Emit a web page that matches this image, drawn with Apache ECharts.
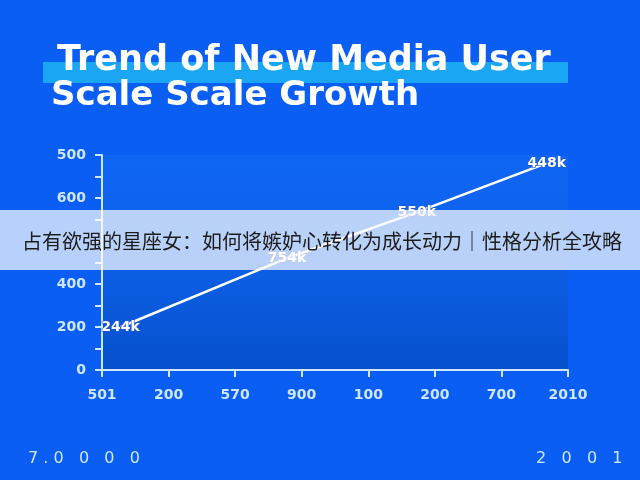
<!DOCTYPE html>
<html>
<head>
<meta charset="utf-8">
<script src="https://cdn.jsdelivr.net/npm/echarts@6/dist/echarts.min.js"></script>
<style>
  html, body { margin: 0; padding: 0; background: #0a5ef4; }
  #main { width: 640px; height: 480px; }
</style>
</head>
<body>
<div id="main"></div>
<script>
// tick labels as printed on the picture
var xLabels = ['501', '200', '570', '900', '100', '200', '700', '2010'];
var yLabels = ['0', '200', '400', '', '600', '500'];
// points: [x position on category scale, y position on tick scale]
var pointX = [0.28, 2.78, 4.73, 6.68];
var pointY = [1.0, 2.6, 3.67, 4.81];
var pointLabels = ['244k', '754k', '550k', '448k'];

var axisColor = '#cfe6ff';
var myChart = echarts.init(document.getElementById('main'));

var data = pointX.map(function (x, i) {
    return { value: [x, pointY[i]], label: { formatter: pointLabels[i] } };
});

var option = {
    backgroundColor: '#0a5ef4',
    animation: false,
    grid: {
        left: 102, right: 72, top: 155, bottom: 110,
        show: true,
        borderWidth: 0,
        backgroundColor: {
            type: 'linear', x: 0, y: 0, x2: 0, y2: 1,
            colorStops: [
                { offset: 0, color: 'rgba(20,110,245,0.5)' },
                { offset: 1, color: '#0650cc' }
            ]
        }
    },
    xAxis: {
        type: 'value',
        min: 0, max: 7, interval: 1,
        splitLine: { show: false },
        axisLine: { show: true, lineStyle: { color: axisColor, width: 2 } },
        axisTick: { show: true, length: 7, lineStyle: { color: axisColor, width: 2 } },
        axisLabel: {
            color: axisColor, fontSize: 14, fontWeight: 'bold',
            fontFamily: 'DejaVu Sans', margin: 18,
            formatter: function (v) { return xLabels[Math.round(v)]; }
        }
    },
    yAxis: {
        type: 'value',
        min: 0, max: 5, interval: 1,
        splitLine: { show: false },
        axisLine: { show: true, lineStyle: { color: axisColor, width: 2 } },
        axisTick: { show: true, length: 7, lineStyle: { color: axisColor, width: 2 } },
        minorTick: { show: true, splitNumber: 2, length: 7, lineStyle: { color: axisColor, width: 2 } },
        axisLabel: {
            color: axisColor, fontSize: 14, fontWeight: 'bold',
            fontFamily: 'DejaVu Sans', margin: 16,
            formatter: function (v) { return yLabels[Math.round(v)]; }
        }
    },
    series: [{
        type: 'line',
        data: data,
        symbol: 'circle',
        symbolSize: 1,
        itemStyle: { color: 'rgba(255,255,255,0)' },
        lineStyle: { color: '#ffffff', width: 2.5 },
        label: {
            show: true,
            position: 'inside',
            color: '#ffffff',
            fontSize: 14,
            fontWeight: 'bold',
            fontFamily: 'DejaVu Sans',
            textBorderColor: 'rgba(40,90,200,0.8)',
            textBorderWidth: 1.5
        }
    }],
    graphic: [
        { type: 'rect', shape: { x: 43, y: 62, width: 525, height: 21 }, style: { fill: '#1aa6f2' }, z: 10 },
        {
            type: 'text', z: 11,
            style: {
                x: 57, y: 61, verticalAlign: 'middle',
                text: 'Trend of New Media User', fill: '#ffffff', font: 'bold 35px "DejaVu Sans"'
            }
        },
        {
            type: 'text', z: 11,
            style: {
                x: 51, y: 96, verticalAlign: 'middle',
                text: 'Scale Scale Growth', fill: '#ffffff', font: 'bold 34px "DejaVu Sans"'
            }
        },
        { type: 'rect', shape: { x: 0, y: 210, width: 640, height: 60 }, style: { fill: 'rgba(255,255,255,0.714)' }, z: 20 },
        {
            type: 'text', z: 21,
            style: {
                x: 22, y: 241, verticalAlign: 'middle',
                text: '占有欲强的星座女：如何将嫉妒心转化为成长动力｜性格分析全攻略',
                fill: '#1c1c1c', font: '20px "Noto Sans CJK SC"'
            }
        },
        {
            type: 'text', left: 28, top: 451, z: 11,
            style: { text: '7 . 0   0   0   0', fill: '#cfe6ff', font: '16px "DejaVu Sans"' }
        },
        {
            type: 'text', left: 536, top: 451, z: 11,
            style: { text: '2   0   0   1', fill: '#cfe6ff', font: '16px "DejaVu Sans"' }
        }
    ]
};

myChart.setOption(option);
</script>
</body>
</html>
